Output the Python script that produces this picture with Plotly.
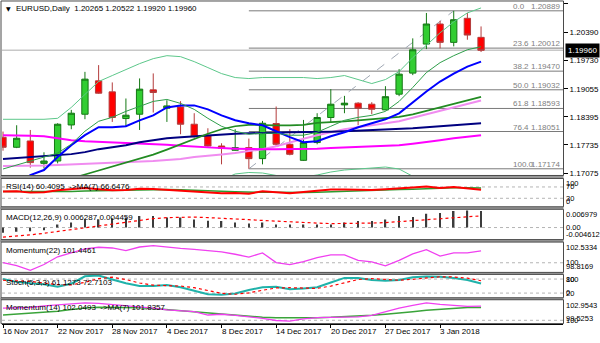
import datetime as dt
import plotly.graph_objects as go

# ---------------- daily bars ----------------
bar_dates = ["2017-11-16", "2017-11-17", "2017-11-20", "2017-11-21", "2017-11-22", "2017-11-23",
             "2017-11-24", "2017-11-27", "2017-11-28", "2017-11-29", "2017-11-30", "2017-12-01",
             "2017-12-04", "2017-12-05", "2017-12-06", "2017-12-07", "2017-12-08", "2017-12-11",
             "2017-12-12", "2017-12-13", "2017-12-14", "2017-12-15", "2017-12-18", "2017-12-19",
             "2017-12-20", "2017-12-21", "2017-12-22", "2017-12-26", "2017-12-27", "2017-12-28",
             "2017-12-29", "2018-01-02", "2018-01-03", "2018-01-04", "2018-01-05", "2018-01-08"]

open_ = [1.17915, 1.17680, 1.17828, 1.17302, 1.17357, 1.18205, 1.18457, 1.19242, 1.18983, 1.18356,
         1.18457, 1.19030, 1.18599, 1.18629, 1.18222, 1.17946, 1.17710, 1.17609, 1.17672, 1.17413,
         1.18238, 1.17750, 1.17373, 1.17791, 1.18380, 1.18677, 1.18717, 1.18693, 1.18559, 1.18929,
         1.19424, 1.20107, 1.20579, 1.20147, 1.20713, 1.20265]
high = [1.18050, 1.18198, 1.18087, 1.17562, 1.18245, 1.18559, 1.19454, 1.19612, 1.19205, 1.18827,
        1.19299, 1.19417, 1.18787, 1.18764, 1.18481, 1.18127, 1.17774, 1.18104, 1.17885, 1.18300,
        1.18639, 1.18104, 1.18323, 1.18481, 1.19047, 1.18889, 1.18740, 1.18740, 1.19117, 1.19518,
        1.20241, 1.20838, 1.20653, 1.20889, 1.20838, 1.20522]
low = [1.17600, 1.17660, 1.17201, 1.17180, 1.17302, 1.18104, 1.18340, 1.18940, 1.18276, 1.18167,
       1.18087, 1.18497, 1.18276, 1.17986, 1.17908, 1.17696, 1.17279, 1.17600, 1.17174, 1.17279,
       1.17710, 1.17491, 1.17360, 1.17750, 1.18276, 1.18481, 1.18198, 1.18457, 1.18552, 1.18882,
       1.19377, 1.19989, 1.20006, 1.20053, 1.20209, 1.19920]
close = [1.17680, 1.17892, 1.17319, 1.17357, 1.18222, 1.18481, 1.19282, 1.18952, 1.18380, 1.18434,
         1.19047, 1.18969, 1.18653, 1.18222, 1.17932, 1.17710, 1.17656, 1.17672, 1.17413, 1.18245,
         1.17750, 1.17515, 1.17791, 1.18380, 1.18693, 1.18717, 1.18599, 1.18575, 1.18870, 1.19400,
         1.19973, 1.20579, 1.20147, 1.20680, 1.20319, 1.19960]

# ---------------- overlay lines on the price window ----------------
band_upper = [1.18338, 1.18338, 1.18338, 1.18338, 1.18361, 1.18618, 1.18922, 1.19226, 1.19367, 1.19507,
              1.19647, 1.19764, 1.19834, 1.19811, 1.19694, 1.19554, 1.19413, 1.19320, 1.19296, 1.19320,
              1.19320, 1.19320, 1.19320, 1.19296, 1.19320, 1.19367, 1.19273, 1.19179, 1.19273, 1.19460,
              1.19787, 1.20091, 1.20372, 1.20629, 1.20840, 1.20957]
band_lower = [1.16400, 1.16420, 1.16450, 1.16480, 1.16500, 1.16520, 1.16550, 1.16600, 1.16650, 1.16680,
              1.16720, 1.16760, 1.16800, 1.16840, 1.16870, 1.16890, 1.16911, 1.17052, 1.17087, 1.17075,
              1.17017, 1.16981, 1.16981, 1.17028, 1.17098, 1.17145, 1.17169, 1.17204, 1.17216, 1.17169,
              1.16993, 1.16794, 1.16654, 1.16514, 1.16420, 1.16350]
ma_fast = [1.17169, 1.17262, 1.17356, 1.17449, 1.17543, 1.17753, 1.18057, 1.18291, 1.18384, 1.18525,
           1.18642, 1.18759, 1.18805, 1.18712, 1.18571, 1.18361, 1.18174, 1.18057, 1.17987, 1.18010,
           1.18010, 1.17964, 1.17964, 1.18034, 1.18174, 1.18314, 1.18384, 1.18431, 1.18525, 1.18759,
           1.19086, 1.19437, 1.19670, 1.19834, 1.19974, 1.20045]
ma_blue = [1.16584, 1.16748, 1.17028, 1.17145, 1.17449, 1.17730, 1.17964, 1.18151, 1.18151, 1.18174,
           1.18314, 1.18431, 1.18618, 1.18665, 1.18665, 1.18571, 1.18431, 1.18314, 1.18244, 1.18197,
           1.18057, 1.17917, 1.17800, 1.17823, 1.17940, 1.18034, 1.18151, 1.18244, 1.18338, 1.18478,
           1.18735, 1.18992, 1.19226, 1.19413, 1.19577, 1.19694]
ma_navy = [1.17402, 1.17426, 1.17449, 1.17473, 1.17496, 1.17519, 1.17566, 1.17636, 1.17683, 1.17730,
           1.17800, 1.17847, 1.17893, 1.17917, 1.17940, 1.17964, 1.17987, 1.17999, 1.18010, 1.18010,
           1.18022, 1.18034, 1.18034, 1.18034, 1.18046, 1.18057, 1.18069, 1.18081, 1.18092, 1.18104,
           1.18127, 1.18151, 1.18174, 1.18197, 1.18221, 1.18244]
ma_magenta = [1.17964, 1.17964, 1.17952, 1.17940, 1.17893, 1.17847, 1.17823, 1.17812, 1.17800, 1.17788,
              1.17777, 1.17765, 1.17742, 1.17718, 1.17695, 1.17671, 1.17660, 1.17648, 1.17636, 1.17636,
              1.17636, 1.17636, 1.17636, 1.17648, 1.17660, 1.17671, 1.17683, 1.17695, 1.17706, 1.17730,
              1.17765, 1.17800, 1.17847, 1.17893, 1.17929, 1.17964]
ma_violet = [1.17239, 1.17239, 1.17239, 1.17250, 1.17262, 1.17274, 1.17286, 1.17309, 1.17321, 1.17332,
             1.17344, 1.17356, 1.17379, 1.17402, 1.17449, 1.17473, 1.17508, 1.17543, 1.17589, 1.17636,
             1.17706, 1.17800, 1.17882, 1.17964, 1.18034, 1.18104, 1.18151, 1.18197, 1.18244, 1.18291,
             1.18373, 1.18455, 1.18536, 1.18618, 1.18700, 1.18782]
ma_green = [1.16561, 1.16654, 1.16748, 1.16818, 1.16888, 1.16947, 1.17040, 1.17134, 1.17227, 1.17309,
            1.17402, 1.17508, 1.17625, 1.17753, 1.17882, 1.17999, 1.18104, 1.18174, 1.18209, 1.18197,
            1.18197, 1.18197, 1.18209, 1.18256, 1.18267, 1.18291, 1.18314, 1.18338, 1.18361, 1.18396,
            1.18455, 1.18536, 1.18618, 1.18700, 1.18782, 1.18864]

# ---------------- Fibonacci retracement ----------------
fib_levels = [0.0, 23.6, 38.2, 50.0, 61.8, 76.4, 100.0]
fib_prices = [1.20889, 1.20012, 1.19470, 1.19032, 1.18593, 1.18051, 1.17174]
fib_low_bar = 18
fib_high_bar = 33

price_ticks = [1.21050, 1.20390, 1.19730, 1.19055, 1.18395, 1.17735, 1.17075]

# ---------------- oscillators ----------------
rsi = [54, 55, 50, 51, 58, 61, 66, 62, 58, 59, 64, 63, 60, 56, 52, 49, 48, 49, 46, 55,
       51, 48, 52, 57, 61, 61, 60, 59, 62, 64, 68, 72, 66, 70, 66, 60.4095]
rsi_ma = [54, 54, 53, 53, 53, 54, 56, 57, 58, 59, 60, 61, 61, 60, 59, 57, 55, 53, 51, 51,
          51, 50, 50, 51, 53, 55, 57, 58, 60, 61, 62, 64, 65, 67, 67, 66.6476]
rsi_levels = [70, 30]

macd = [-0.0020, -0.0016, -0.0014, -0.0010, 0.0012, 0.0019, 0.0031, 0.0032, 0.0035, 0.0038,
        0.0044, 0.0044, 0.0038, 0.0038, 0.0031, 0.0026, 0.0025, 0.0019, 0.0015, 0.0019,
        0.0012, 0.0012, 0.0012, 0.0012, 0.0012, 0.0019, 0.0025, 0.0025, 0.0031, 0.0044,
        0.0040, 0.0053, 0.0056, 0.0063, 0.0065, 0.006287]
macd_signal = [-0.0037, -0.0033, -0.0028, -0.0022, -0.0015, -0.0008, 0.0000, 0.0008, 0.0015, 0.0022,
               0.0029, 0.0034, 0.0038, 0.0040, 0.0040, 0.0038, 0.0036, 0.0033, 0.0030, 0.0027,
               0.0024, 0.0021, 0.0019, 0.0017, 0.0015, 0.0015, 0.0016, 0.0017, 0.0019, 0.0023,
               0.0026, 0.0031, 0.0035, 0.0039, 0.0042, 0.004459]

mom22 = [100.02, 99.66, 99.06, 99.78, 100.73, 101.21, 101.69, 101.90, 101.81, 101.49,
         101.93, 102.09, 101.90, 101.75, 101.63, 101.49, 101.33, 101.04, 100.70, 101.21,
         100.02, 99.78, 100.14, 100.62, 100.97, 100.97, 100.29, 100.10, 99.62, 100.29,
         101.09, 101.61, 100.82, 101.21, 101.21, 101.4461]

stoch_k = [80, 68, 62, 58, 47, 60, 92, 95, 78, 62, 50, 50, 55, 45, 30, 15, 13, 18, 33, 45,
           47, 36, 40, 45, 65, 85, 85, 76, 73, 76, 88, 91, 90, 85, 76, 61.1273]
stoch_d = [75, 74, 70, 63, 56, 55, 66, 82, 88, 78, 63, 54, 52, 50, 43, 30, 19, 15, 21, 32,
           42, 43, 41, 40, 50, 65, 78, 82, 78, 75, 79, 85, 90, 89, 84, 72.7103]
stoch_levels = [80, 20]

mom14 = [101.76, 101.76, 101.84, 102.06, 102.21, 102.28, 102.51, 102.43, 102.28, 102.06,
         101.98, 101.76, 101.51, 101.39, 101.24, 100.76, 100.87, 100.72, 100.52, 100.27,
         99.97, 99.87, 100.20, 100.38, 100.42, 100.47, 100.50, 100.72, 101.27, 101.76,
         102.13, 102.51, 102.28, 102.13, 102.01, 102.0493]
mom14_ma = [100.76, 100.87, 101.02, 101.17, 101.31, 101.54, 101.76, 101.87, 101.87, 101.87,
            101.79, 101.69, 101.54, 101.39, 101.21, 101.02, 100.87, 100.72, 100.57, 100.45,
            100.38, 100.35, 100.35, 100.38, 100.42, 100.50, 100.57, 100.72, 100.87, 101.02,
            101.24, 101.46, 101.61, 101.76, 101.84, 101.8357]

date_label_bars = [0, 4, 8, 12, 16, 20, 24, 28, 32]

# ---------------- geometry ----------------
W, H = 600, 343
FONT = "Liberation Sans, Arial, sans-serif"
X_LEFT, X_RIGHT = 2, 563


def py(px):
    """Pixel row from the top -> paper fraction."""
    return 1 - px / H


def px_x(px):
    return px / W


panels = {  # name: (top px, bottom px, value range)
    "y": (1, 176.5, [1.17017, 1.21120]),
    "y2": (179.5, 208, [0, 100]),
    "y3": (210.5, 241, [-0.004612, 0.006979]),
    "y4": (243.5, 274, [98.8169, 102.5334]),
    "y5": (276, 299.5, [0, 100]),
    "y6": (301.5, 325.5, [99.5253, 102.9543]),
}

bars = list(range(len(bar_dates)))
x_range = [-0.073, 41.0]

fig = go.Figure()

fig.add_trace(go.Candlestick(
    x=bars, open=open_, high=high, low=low, close=close,
    increasing=dict(fillcolor="#32cd32", line=dict(color="#147814", width=1)),
    decreasing=dict(fillcolor="#ff0000", line=dict(color="#b43c3c", width=1)),
    whiskerwidth=0, showlegend=False, xaxis="x", yaxis="y"))


def line(y, color, width, axis="y", dash="solid"):
    fig.add_trace(go.Scatter(x=bars, y=y, mode="lines", showlegend=False,
                             line=dict(color=color, width=width, dash=dash),
                             xaxis="x", yaxis=axis, cliponaxis=True))


line(ma_violet, "#f08cf0", 2)
line(ma_magenta, "#ff00ff", 2)
line(ma_navy, "#000080", 2)
line(ma_green, "#228b22", 1.7)
line(ma_blue, "#0000ff", 2)
line(band_upper, "#5cc78a", 1)
line(band_lower, "#5cc78a", 1)
line(ma_fast, "#2e9e4a", 1)

# RSI
line(rsi_ma, "#2f9a2f", 1.5, "y2")
line(rsi, "#ff0000", 2, "y2")
# MACD
fig.add_trace(go.Bar(x=bars, y=macd, width=0.11, marker=dict(color="#3c3c3c", line=dict(width=0)),
                     showlegend=False, xaxis="x", yaxis="y3"))
line(macd_signal, "#ff0000", 1.2, "y3", "dot")
# Momentum(22)
line(mom22, "#f040f0", 1.3, "y4")
# Stochastic
line(stoch_k, "#20b2aa", 2, "y5")
line(stoch_d, "#ff0000", 1.2, "y5", "dot")
# Momentum(14)
line(mom14_ma, "#3aa43a", 1.5, "y6")
line(mom14, "#f040f0", 1.3, "y6")

shapes = []
annotations = []

# Fibonacci lines, trend line and labels
for lvl, p in zip(fib_levels, fib_prices):
    shapes.append(dict(type="line", xref="x", yref="y", x0=fib_low_bar, x1=x_range[1], y0=p, y1=p,
                       line=dict(color="#7a7a7a", width=1), layer="below"))
    annotations.append(dict(xref="paper", yref="y", x=px_x(511), y=p, xanchor="left", yanchor="bottom",
                            yshift=-2, text=f"{lvl:.1f}", showarrow=False,
                            font=dict(family=FONT, size=8, color="#808080")))
    annotations.append(dict(xref="paper", yref="y", x=px_x(X_RIGHT - 1), y=p, xanchor="right",
                            yanchor="bottom", yshift=-2, text=f"{p:.5f}", showarrow=False,
                            font=dict(family=FONT, size=8, color="#808080")))
shapes.append(dict(type="line", xref="x", yref="y", x0=fib_low_bar, y0=low[fib_low_bar],
                   x1=fib_high_bar, y1=high[fib_high_bar],
                   line=dict(color="#a0a8b4", width=1, dash="dash"), layer="below"))

# bid line
shapes.append(dict(type="line", xref="paper", yref="y", x0=px_x(X_LEFT), x1=px_x(X_RIGHT),
                   y0=close[-1], y1=close[-1], line=dict(color="#c8c8c8", width=1.5), layer="below"))

# level lines in the oscillator windows
for axis, levels in (("y2", rsi_levels), ("y3", [0]), ("y4", [100]), ("y5", stoch_levels), ("y6", [100])):
    for v in levels:
        shapes.append(dict(type="line", xref="paper", yref=axis, x0=px_x(X_LEFT), x1=px_x(X_RIGHT),
                           y0=v, y1=v, line=dict(color="#b4b4b4", width=1, dash="dot"), layer="below"))

# window separators and frames
names = list(panels)
for a, b in zip(names[:-1], names[1:]):
    shapes.append(dict(type="rect", xref="paper", yref="paper", x0=0, x1=px_x(X_RIGHT + 0.5),
                       y0=py(panels[b][0]), y1=py(panels[a][1]), fillcolor="#9a9a9a",
                       line=dict(width=0), layer="above"))
for n in names:
    top, bot, _ = panels[n]
    shapes.append(dict(type="rect", xref="paper", yref="paper", x0=px_x(1), x1=px_x(X_RIGHT + 0.5),
                       y0=py(bot), y1=py(top), line=dict(color="#4a4a4a", width=1), layer="above"))

# price tag
annotations.append(dict(xref="paper", yref="y", x=px_x(X_RIGHT + 1.5), y=close[-1], xanchor="left",
                        yanchor="middle", text=f"{close[-1]:.5f}", showarrow=False, bgcolor="#000000",
                        borderpad=2, font=dict(family=FONT, size=8, color="#ffffff")))

# header line
annotations.append(dict(xref="paper", yref="paper", x=px_x(4), y=py(9), xanchor="left", yanchor="middle",
                        text="▼", showarrow=False, font=dict(family="DejaVu Sans", size=6, color="#000")))
annotations.append(dict(xref="paper", yref="paper", x=px_x(14), y=py(9), xanchor="left", yanchor="middle",
                        text=f"EURUSD,Daily  {open_[-1]:.5f} {high[-1]:.5f} {low[-1]:.5f} {close[-1]:.5f}",
                        showarrow=False, font=dict(family=FONT, size=8, color="#000")))

# oscillator captions
captions = {
    "y2": f"RSI(14) {rsi[-1]:.4f}  ->MA(7) {rsi_ma[-1]:.4f}",
    "y3": f"MACD(12,26,9) {macd[-1]:.6f} {macd_signal[-1]:.6f}",
    "y4": f"Momentum(22) {mom22[-1]:.4f}",
    "y5": f"Stoch(5,3,3) {stoch_k[-1]:.4f} {stoch_d[-1]:.4f}",
    "y6": f"Momentum(14) {mom14[-1]:.4f}  ->MA(7) {mom14_ma[-1]:.4f}",
}
for axis, txt in captions.items():
    annotations.append(dict(xref="paper", yref="paper", x=px_x(4), y=py(panels[axis][0] + 1.5),
                            xanchor="left", yanchor="top", text=txt, showarrow=False,
                            font=dict(family=FONT, size=8, color="#000")))

# oscillator scale labels (max at top, min at bottom, levels centred)
scale_labels = {
    "y2": ("100", [(70, "70"), (30, "30")], "0"),
    "y3": ("0.006979", [(0, "0.00")], "-0.004612"),
    "y4": ("102.5334", [(100, "100")], "98.8169"),
    "y5": ("100", [(80, "80"), (20, "20")], "0"),
    "y6": ("102.9543", [(100, "100")], "99.5253"),
}
for axis, (top_txt, mids, bot_txt) in scale_labels.items():
    lo, hi = panels[axis][2]
    common = dict(xref="paper", yref=axis, x=px_x(X_RIGHT + 1.5), xanchor="left", showarrow=False,
                  borderpad=0, font=dict(family=FONT, size=7.5, color="#000"))
    annotations.append(dict(common, y=hi, yanchor="top", text=top_txt))
    annotations.append(dict(common, y=lo, yanchor="bottom", text=bot_txt))
    for v, t in mids:
        annotations.append(dict(common, y=v, yanchor="middle", text=t))

# date labels under the last window
for b in date_label_bars:
    d = dt.date.fromisoformat(bar_dates[b])
    annotations.append(dict(xref="x", yref="paper", x=b, y=py(326.5), xanchor="left", yanchor="top",
                            xshift=-2, text=f"{d.day} {d.strftime('%b %Y')}", showarrow=False,
                            font=dict(family=FONT, size=8, color="#000")))

layout = dict(
    width=W, height=H, margin=dict(l=0, r=0, t=0, b=0), autosize=False,
    paper_bgcolor="#ffffff", plot_bgcolor="#ffffff", showlegend=False, hovermode=False,
    boxgap=0.34,
    xaxis=dict(domain=[px_x(X_LEFT), px_x(X_RIGHT)], range=x_range, anchor="free",
               position=py(panels["y6"][1]), showgrid=False, zeroline=False,
               showline=True, linecolor="#000", linewidth=1,
               ticks="outside", ticklen=3, tickcolor="#000", tickvals=date_label_bars,
               showticklabels=False, rangeslider=dict(visible=False), fixedrange=True),
    shapes=shapes, annotations=annotations,
)
for n in names:
    top, bot, rng = panels[n]
    ax = dict(domain=[py(bot), py(top)], range=rng, anchor="x", side="right", showgrid=False,
              zeroline=False, fixedrange=True, showticklabels=False, ticks="")
    if n == "y":
        ax.update(showticklabels=True, tickvals=price_ticks, ticktext=[f"{v:.5f}" for v in price_ticks],
                  ticks="outside", ticklen=4, tickcolor="#000", showline=True, linecolor="#000",
                  tickfont=dict(family=FONT, size=8, color="#000"))
    key = "yaxis" if n == "y" else "yaxis" + n[1:]
    layout[key] = ax

fig.update_layout(**layout)
fig.write_html("out.html")
